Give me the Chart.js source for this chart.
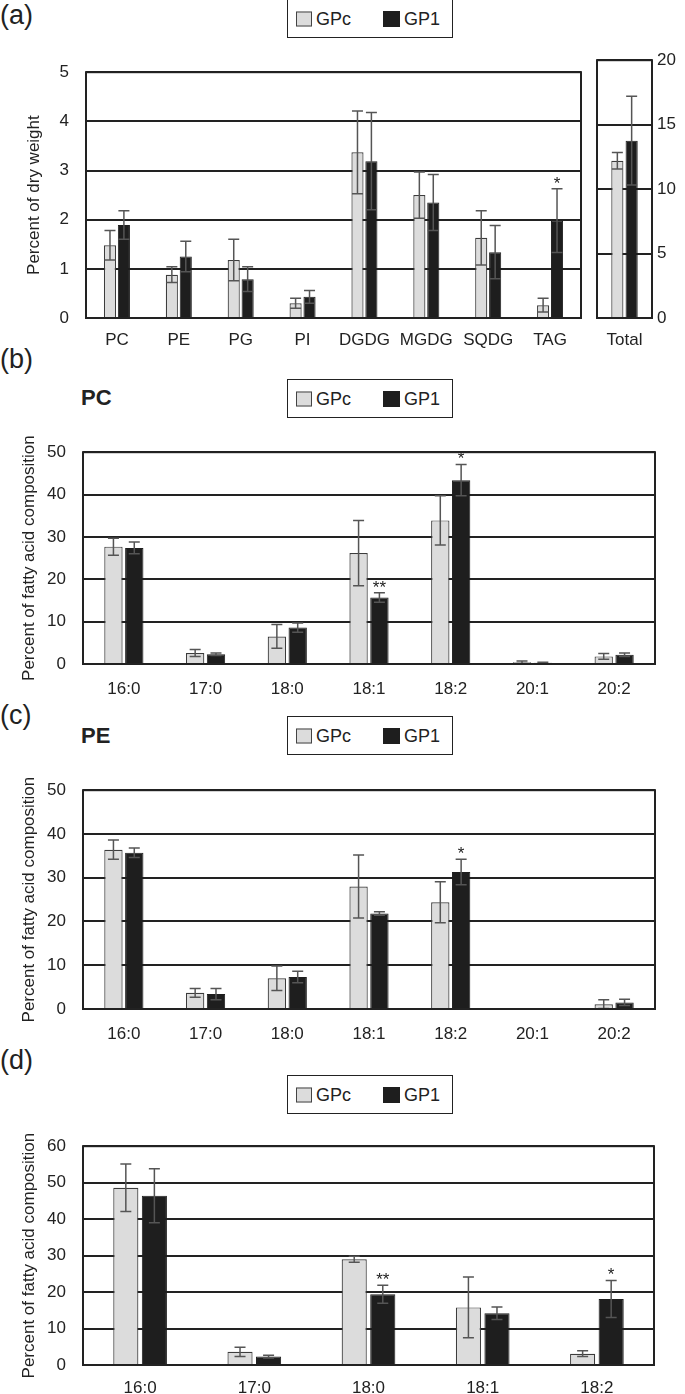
<!DOCTYPE html>
<html>
<head>
<meta charset="utf-8">
<script src="https://cdn.jsdelivr.net/npm/chart.js@4.4.0/dist/chart.umd.min.js"></script>
<style>
  body { margin: 0; background: #fff; width: 685px; height: 1394px; position: relative; overflow: hidden;
         font-family: 'Liberation Sans', Arial, sans-serif; color: #222; }
  canvas { position: absolute; }
  .panel { position: absolute; left: 0; font-size: 27px; line-height: 1; }
  .name { position: absolute; left: 81px; font-size: 22px; font-weight: bold; line-height: 1; }
  .legend { position: absolute; left: 287px; width: 166px; height: 39px; box-sizing: border-box;
            border: 1.5px solid #222; font-size: 18px; }
  .legend span { position: absolute; top: 50%; transform: translateY(-50%); }
  .sw { width: 16px; height: 15px; box-sizing: border-box; }
  .sw.light { left: 8px; background: #dcdcdc; border: 1.5px solid #444; }
  .sw.dark { left: 95px; background: #1e1e1e; width: 17px; height: 16px; }
  .t1 { left: 28px; }
  .t2 { left: 116px; }
</style>
</head>
<body>
<div class="panel" style="top:2px">(a)</div>
<div class="panel" style="top:346px">(b)</div>
<div class="panel" style="top:702px">(c)</div>
<div class="panel" style="top:1047px">(d)</div>
<div class="name" style="top:387px">PC</div>
<div class="name" style="top:725px">PE</div>

<div class="legend" style="top:-1px"><span class="sw light"></span><span class="t1">GPc</span><span class="sw dark"></span><span class="t2">GP1</span></div>
<div class="legend" style="top:379px"><span class="sw light"></span><span class="t1">GPc</span><span class="sw dark"></span><span class="t2">GP1</span></div>
<div class="legend" style="top:716px"><span class="sw light"></span><span class="t1">GPc</span><span class="sw dark"></span><span class="t2">GP1</span></div>
<div class="legend" style="top:1075px"><span class="sw light"></span><span class="t1">GPc</span><span class="sw dark"></span><span class="t2">GP1</span></div>

<canvas id="chartA" width="600" height="315" style="left:0;top:45px"></canvas>
<canvas id="chartTotal" width="95" height="315" style="left:590px;top:45px"></canvas>
<canvas id="chartB" width="685" height="280" style="left:0;top:425px"></canvas>
<canvas id="chartC" width="685" height="290" style="left:0;top:763px"></canvas>
<canvas id="chartD" width="685" height="275" style="left:0;top:1119px"></canvas>

<script>
// (a) lipid classes, percent of dry weight
const lipidClasses = ['PC', 'PE', 'PG', 'PI', 'DGDG', 'MGDG', 'SQDG', 'TAG'];
const lipidGPc = [1.48, 0.88, 1.18, 0.30, 3.37, 2.50, 1.63, 0.26];
const lipidGPcErr = [0.30, 0.16, 0.42, 0.10, 0.84, 0.47, 0.55, 0.14];
const lipidGP1 = [1.89, 1.25, 0.79, 0.43, 3.19, 2.35, 1.34, 1.98];
const lipidGP1Err = [0.29, 0.31, 0.25, 0.13, 0.99, 0.57, 0.54, 0.65];
const lipidStars = ['', '', '', '', '', '', '', '*'];

const totalLabel = ['Total'];
const totalGPc = [12.2];
const totalGPcErr = [0.64];
const totalGP1 = [13.76];
const totalGP1Err = [3.45];

// (b) PC fatty acids
const fattyAcids = ['16:0', '17:0', '18:0', '18:1', '18:2', '20:1', '20:2'];
const pcGPc = [27.7, 2.6, 6.5, 26.2, 33.9, 0.4, 1.8];
const pcGPcErr = [2.0, 0.8, 2.8, 7.7, 5.8, 0.3, 0.7];
const pcGP1 = [27.4, 2.3, 8.6, 15.7, 43.4, 0.3, 2.2];
const pcGP1Err = [1.4, 0.3, 1.1, 1.1, 3.7, 0.1, 0.4];
const pcStars = ['', '', '', '**', '*', '', ''];

// (c) PE fatty acids
const peGPc = [36.4, 3.7, 7.0, 28.0, 24.4, 0, 1.1];
const peGPcErr = [2.2, 1.0, 2.8, 7.2, 4.7, 0, 1.0];
const peGP1 = [35.7, 3.4, 7.3, 21.8, 31.3, 0, 1.5];
const peGP1Err = [1.1, 1.3, 1.3, 0.4, 2.9, 0, 0.7];
const peStars = ['', '', '', '', '*', '', ''];

// (d) fatty acids
const fattyAcidsD = ['16:0', '17:0', '18:0', '18:1', '18:2'];
const dGPc = [48.6, 3.6, 29.0, 15.8, 3.1];
const dGPcErr = [6.5, 1.3, 0.8, 8.3, 0.8];
const dGP1 = [46.4, 2.3, 19.4, 14.2, 18.1];
const dGP1Err = [7.4, 0.4, 2.5, 1.7, 5.1];
const dStars = ['', '', '**', '', '*'];

Chart.defaults.font.family = "'Liberation Sans', Arial, sans-serif";
Chart.defaults.font.size = 17;
Chart.defaults.color = '#222';

// error bars + significance marks
const errorBars = {
  id: 'errorBars',
  afterDatasetsDraw(chart) {
    const ctx = chart.ctx;
    const y = chart.scales.y;
    ctx.save();
    chart.data.datasets.forEach((ds, di) => {
      const meta = chart.getDatasetMeta(di);
      ds.errors.forEach((e, i) => {
        const bar = meta.data[i];
        const top = y.getPixelForValue(ds.data[i] + e);
        if (e) {
          const bot = y.getPixelForValue(ds.data[i] - e);
          const cap = 5.5;
          ctx.strokeStyle = '#555';
          ctx.lineWidth = 1.5;
          ctx.beginPath();
          ctx.moveTo(bar.x, top); ctx.lineTo(bar.x, bot);
          ctx.moveTo(bar.x - cap, top); ctx.lineTo(bar.x + cap, top);
          ctx.moveTo(bar.x - cap, bot); ctx.lineTo(bar.x + cap, bot);
          ctx.stroke();
        }
        if (ds.stars && ds.stars[i]) {
          ctx.fillStyle = '#222';
          ctx.font = "17px 'Liberation Sans', Arial, sans-serif";
          ctx.textAlign = 'center';
          ctx.textBaseline = 'alphabetic';
          ctx.fillText(ds.stars[i], bar.x, top);
        }
      });
    });
    ctx.restore();
  }
};

// box around the plot area
const frame = {
  id: 'frame',
  afterDraw(chart) {
    const a = chart.chartArea;
    const ctx = chart.ctx;
    ctx.save();
    ctx.strokeStyle = '#222';
    ctx.lineWidth = 2;
    ctx.strokeRect(a.left, a.top, a.right - a.left, a.bottom - a.top);
    ctx.restore();
  }
};

function barChart(id, labels, gpc, gpcErr, gp1, gp1Err, stars, o) {
  return new Chart(document.getElementById(id), {
    type: 'bar',
    data: {
      labels: labels,
      datasets: [
        { label: 'GPc', data: gpc, errors: gpcErr, backgroundColor: '#dcdcdc', borderColor: '#3c3c3c',
          borderWidth: 1.2, categoryPercentage: o.cat, barPercentage: o.bar },
        { label: 'GP1', data: gp1, errors: gp1Err, stars: stars, backgroundColor: '#1e1e1e', borderColor: '#1e1e1e',
          borderWidth: 1, categoryPercentage: o.cat, barPercentage: o.bar }
      ]
    },
    options: {
      responsive: false,
      animation: false,
      layout: { padding: { top: o.top, right: o.right, left: o.left || 0, bottom: 0 } },
      plugins: { legend: { display: false }, tooltip: { enabled: false } },
      scales: {
        x: {
          grid: { display: false, drawTicks: false },
          border: { display: false },
          ticks: { padding: o.xpad, maxRotation: 0, autoSkip: false },
          afterFit(s) { s.height = o.xh; }
        },
        y: {
          position: o.ypos || 'left',
          min: 0, max: o.max,
          ticks: { stepSize: o.step, padding: o.ypad },
          grid: { color: '#222', lineWidth: 2, drawTicks: false },
          border: { display: false },
          title: o.title ? { display: true, text: o.title, padding: { top: o.tpad, bottom: 0 } } : { display: false },
          afterFit(s) { s.width = o.yw; }
        }
      }
    },
    plugins: [errorBars, frame]
  });
}

barChart('chartA', lipidClasses, lipidGPc, lipidGPcErr, lipidGP1, lipidGP1Err, lipidStars,
  { cat: 0.45, bar: 0.87, top: 8, right: 19, yw: 86, xh: 42, xpad: 12, ypad: 17, max: 5, step: 1,
    title: 'Percent of dry weight', tpad: 24 });

barChart('chartTotal', totalLabel, totalGPc, totalGPcErr, totalGP1, totalGP1Err, null,
  { cat: 0.52, bar: 0.85, top: 8, right: 0, left: 7, yw: 33, xh: 42, xpad: 12, ypad: 5, max: 20, step: 5,
    ypos: 'right' });

barChart('chartB', fattyAcids, pcGPc, pcGPcErr, pcGP1, pcGP1Err, pcStars,
  { cat: 0.51, bar: 0.88, top: 10, right: 30, yw: 83, xh: 41, xpad: 15, ypad: 17, max: 50, step: 10,
    title: 'Percent of fatty acid composition', tpad: 19 });

barChart('chartC', fattyAcids, peGPc, peGPcErr, peGP1, peGP1Err, peStars,
  { cat: 0.51, bar: 0.88, top: 10, right: 30, yw: 83, xh: 44, xpad: 15, ypad: 17, max: 50, step: 10,
    title: 'Percent of fatty acid composition', tpad: 19 });

barChart('chartD', fattyAcidsD, dGPc, dGPcErr, dGP1, dGP1Err, dStars,
  { cat: 0.5, bar: 0.88, top: 10, right: 31, yw: 83, xh: 29, xpad: 13, ypad: 17, max: 60, step: 10,
    title: 'Percent of fatty acid composition', tpad: 19 });
</script>
</body>
</html>
